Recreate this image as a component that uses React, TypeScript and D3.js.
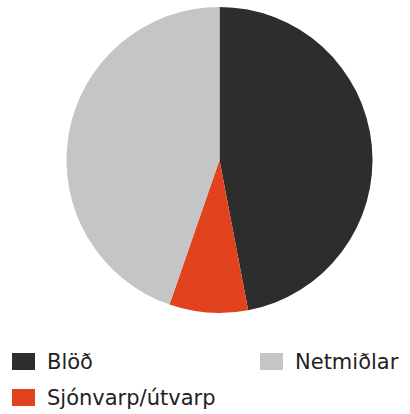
import React, { useEffect, useRef } from 'react';
import * as d3 from 'd3';

const labels = ['Blöð', 'Sjónvarp/útvarp', 'Netmiðlar'];
const values = [47, 8.3, 44.7];
const colors = ['#2d2d2d', '#e2431f', '#c4c5c7'];

const App = () => {
  const ref = useRef<SVGSVGElement | null>(null);

  useEffect(() => {
    const svg = d3.select(ref.current);
    svg.selectAll('*').remove();

    const cx = 219.5, cy = 160, radius = 153;
    const data = labels.map((l, i) => ({ label: l, value: values[i] }));
    const color = d3.scaleOrdinal<string, string>().domain(labels).range(colors);

    const pie = d3.pie<{ label: string; value: number }>().sort(null).value(d => d.value);
    const arc = d3.arc<d3.PieArcDatum<{ label: string; value: number }>>().innerRadius(0).outerRadius(radius);

    svg.append('g')
      .attr('transform', `translate(${cx},${cy})`)
      .selectAll('path')
      .data(pie(data))
      .enter()
      .append('path')
      .attr('d', arc)
      .attr('fill', d => color(d.data.label));

    // Legend: two columns, Netmiðlar sits top right
    const legendPos = [
      { x: 12, y: 353 },
      { x: 12, y: 389 },
      { x: 260, y: 353 },
    ];
    const legend = svg.append('g');
    data.forEach((d, i) => {
      const p = legendPos[i];
      legend.append('rect')
        .attr('x', p.x)
        .attr('y', p.y)
        .attr('width', 23)
        .attr('height', 17)
        .attr('fill', color(d.label));
      legend.append('text')
        .attr('x', p.x + 35)
        .attr('y', p.y + 16)
        .text(d.label)
        .style('font-family', 'DejaVu Sans')
        .style('font-size', '21px')
        .style('fill', '#222');
    });
  }, []);

  return (
    <svg
      ref={ref}
      width={410}
      height={414}
      style={{ position: 'absolute', left: 0, top: 0, background: '#fff' }}
    />
  );
};

export default App;
